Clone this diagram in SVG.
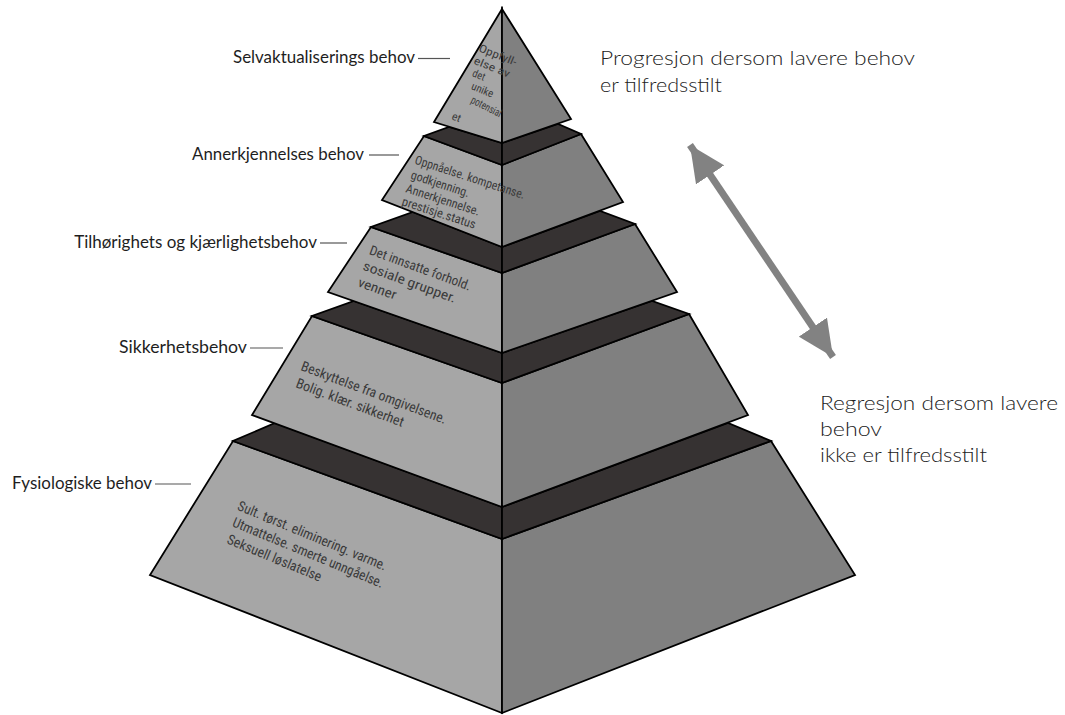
<svg xmlns="http://www.w3.org/2000/svg" width="1065" height="715" viewBox="0 0 1065 715">
  <style>
    .lf { fill: #a6a6a6; stroke: #000; stroke-width: 1.8; stroke-linejoin: miter; }
    .rf { fill: #808080; stroke: #000; stroke-width: 1.8; stroke-linejoin: miter; }
    .tp { fill: #363232; stroke: #000; stroke-width: 1.8; stroke-linejoin: miter; }
    .lbl { font-family: Lato, "Noto Sans", sans-serif; font-size: 17px; fill: #1e1e1e; }
    .side { font-family: Lato, "Noto Sans", sans-serif; font-size: 20px; font-weight: 300; fill: #222; }
    .lead { stroke: #555; stroke-width: 1.2; }
    .face { font-family: "Roboto Condensed", "DejaVu Sans Condensed", "Liberation Sans Narrow", Roboto, sans-serif; fill: #3a3a3a; }
  </style>
  <defs>
    <marker id="head" markerUnits="userSpaceOnUse" markerWidth="36" markerHeight="34" viewBox="0 0 36 34" refX="36" refY="17" orient="auto-start-reverse">
      <path d="M0,0 L36,17 L0,34 z" fill="#828282"/>
    </marker>
  </defs>
  <rect width="1065" height="715" fill="#fff"/>

  <!-- level 5: physiological needs (base) -->
  <g id="tier-fysiologiske">
    <polygon class="lf" points="233,441 502,539 502,713 150,575"/>
    <polygon class="rf" points="771,441 855,575 502,713 502,539"/>
    <polygon class="tp" points="502,507 275,423 233,441 502,539"/>
    <polygon class="tp" points="502,507 728,423 771,441 502,539"/>
    <g class="face" font-size="14">
      <text transform="translate(236.5,509.5) rotate(22.5)" textLength="160" lengthAdjust="spacingAndGlyphs">Sult. tørst. eliminering. varme.</text>
      <text transform="translate(231.5,526) rotate(22.5)" textLength="162" lengthAdjust="spacingAndGlyphs">Utmattelse. smerte unngåelse.</text>
      <text transform="translate(226,543) rotate(22.5)" textLength="101" lengthAdjust="spacingAndGlyphs">Seksuell løslatelse</text>
    </g>
  </g>

  <!-- level 4: safety -->
  <g id="tier-sikkerhet">
    <polygon class="lf" points="312,316 502,383 502,507 252,415"/>
    <polygon class="rf" points="689,314 748,415 502,507 502,383"/>
    <polygon class="tp" points="502,353 354,301 312,316 502,383"/>
    <polygon class="tp" points="502,353 652,301 689,314 502,383"/>
    <g class="face" font-size="14">
      <text transform="translate(300,370) rotate(20.5)" textLength="154" lengthAdjust="spacingAndGlyphs">Beskyttelse fra omgivelsene.</text>
      <text transform="translate(295,387) rotate(20.5)" textLength="114" lengthAdjust="spacingAndGlyphs">Bolig. klær. sikkerhet</text>
    </g>
  </g>

  <!-- level 3: belonging and love -->
  <g id="tier-tilhorighet">
    <polygon class="lf" points="371,227 502,273 502,353 328,292"/>
    <polygon class="rf" points="635,224 677,292 502,353 502,273"/>
    <polygon class="tp" points="502,247 413,212 371,227 502,273"/>
    <polygon class="tp" points="502,247 600,211 635,224 502,273"/>
    <g class="face" font-size="13.5">
      <text transform="translate(368.5,254) rotate(20)" textLength="107" lengthAdjust="spacingAndGlyphs">Det innsatte forhold.</text>
      <text transform="translate(362,269.5) rotate(20)" textLength="98" lengthAdjust="spacingAndGlyphs">sosiale grupper.</text>
      <text transform="translate(357,286) rotate(20)" textLength="40" lengthAdjust="spacingAndGlyphs">venner</text>
    </g>
  </g>

  <!-- level 2: esteem -->
  <g id="tier-annerkjennelse">
    <polygon class="lf" points="424,136 502,165 502,247 382,200"/>
    <polygon class="rf" points="581,134 623,202 502,247 502,165"/>
    <polygon class="tp" points="502,143 449,127 424,136 502,165"/>
    <polygon class="tp" points="502,143 558,124 581,134 502,165"/>
    <g class="face" font-size="12.5">
      <text transform="translate(414,163.5) rotate(18)" textLength="115" lengthAdjust="spacingAndGlyphs">Oppnåelse. kompetanse.</text>
      <text transform="translate(410,178.5) rotate(18)" textLength="61" lengthAdjust="spacingAndGlyphs">godkjenning.</text>
      <text transform="translate(405,192) rotate(18)" textLength="77" lengthAdjust="spacingAndGlyphs">Annerkjennelse.</text>
      <text transform="translate(401,205) rotate(18)" textLength="77" lengthAdjust="spacingAndGlyphs">prestisje.status</text>
    </g>
  </g>

  <!-- level 1: self-actualisation (apex) -->
  <g id="tier-selvaktualisering">
    <polygon class="lf" points="502,9 434,122 502,143"/>
    <polygon class="rf" points="502,9 571,119 502,143"/>
    <g class="face" font-size="11">
      <text transform="translate(478,51) rotate(22)" textLength="40" lengthAdjust="spacingAndGlyphs">Oppfyll-</text>
      <text transform="translate(473,63.5) rotate(22)" textLength="38" lengthAdjust="spacingAndGlyphs">else av</text>
      <text transform="translate(471.5,76) rotate(22)" textLength="13" lengthAdjust="spacingAndGlyphs">det</text>
      <text transform="translate(470.5,89) rotate(22)" textLength="23" lengthAdjust="spacingAndGlyphs">unike</text>
      <text transform="translate(470,102.5) rotate(27)" textLength="33" lengthAdjust="spacingAndGlyphs">potensial</text>
      <text transform="translate(451,119) rotate(22)" textLength="9" lengthAdjust="spacingAndGlyphs">et</text>
    </g>
  </g>

  <!-- level labels with leader lines -->
  <g id="label-selvaktualisering">
    <text class="lbl" x="233" y="63" textLength="182" lengthAdjust="spacingAndGlyphs">Selvaktualiserings behov</text>
    <line class="lead" x1="418" y1="58.5" x2="450" y2="58.5"/>
  </g>
  <g id="label-annerkjennelse">
    <text class="lbl" x="192" y="159.5" textLength="172" lengthAdjust="spacingAndGlyphs">Annerkjennelses behov</text>
    <line class="lead" x1="369" y1="155" x2="399" y2="155"/>
  </g>
  <g id="label-tilhorighet">
    <text class="lbl" x="317" y="247.5" text-anchor="end">Tilhørighets og kjærlighetsbehov</text>
    <line class="lead" x1="320" y1="243" x2="347" y2="243"/>
  </g>
  <g id="label-sikkerhet">
    <text class="lbl" x="119" y="352.5" textLength="128" lengthAdjust="spacingAndGlyphs">Sikkerhetsbehov</text>
    <line class="lead" x1="250" y1="348" x2="283" y2="348"/>
  </g>
  <g id="label-fysiologiske">
    <text class="lbl" x="12" y="488.5" textLength="140" lengthAdjust="spacingAndGlyphs">Fysiologiske behov</text>
    <line class="lead" x1="155" y1="484" x2="191" y2="484"/>
  </g>

  <!-- progression / regression notes -->
  <g id="note-progresjon">
    <text class="side" x="600" y="65" textLength="315" lengthAdjust="spacingAndGlyphs">Progresjon dersom lavere behov</text>
    <text class="side" x="600" y="91.5" textLength="122" lengthAdjust="spacingAndGlyphs">er tilfredsstilt</text>
  </g>
  <g id="note-regresjon">
    <text class="side" x="820" y="410" textLength="238" lengthAdjust="spacingAndGlyphs">Regresjon dersom lavere</text>
    <text class="side" x="820" y="435.5" textLength="62" lengthAdjust="spacingAndGlyphs">behov</text>
    <text class="side" x="820" y="461.5" textLength="167" lengthAdjust="spacingAndGlyphs">ikke er tilfredsstilt</text>
  </g>

  <!-- two-way arrow between the notes -->
  <g id="connectors">
    <line x1="690" y1="145" x2="833" y2="357" stroke="#828282" stroke-width="7" marker-start="url(#head)" marker-end="url(#head)"/>
  </g>
</svg>
